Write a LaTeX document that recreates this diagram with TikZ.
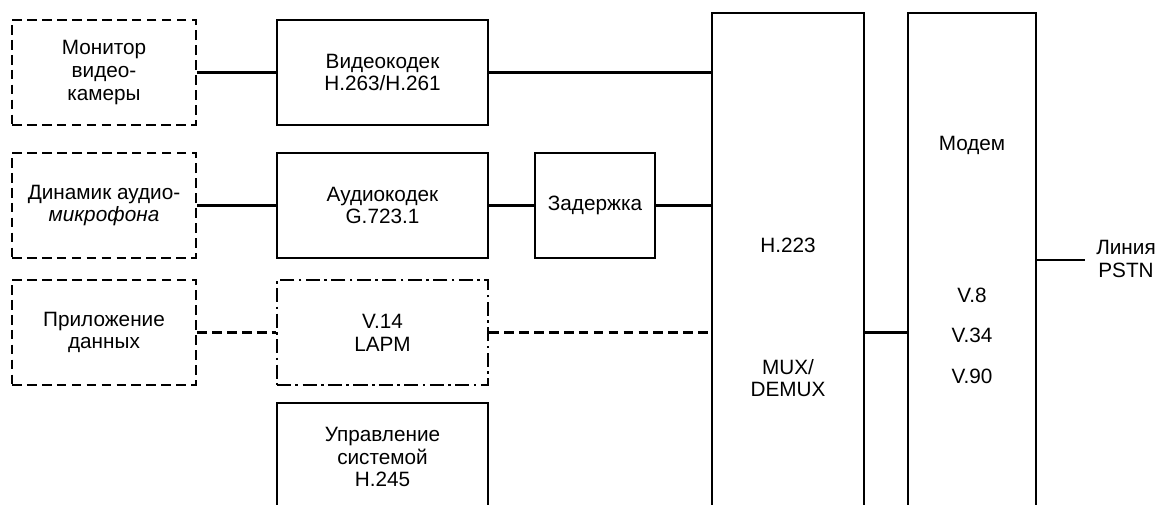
\documentclass[tikz,border=0pt]{standalone}
\usepackage{fontspec}
\setmainfont{Liberation Sans}
\usetikzlibrary{positioning}

\begin{document}
\begin{tikzpicture}[x=0.02cm,y=-0.02cm,font=\fontsize{11.8}{13}\selectfont,
  s/.style={draw,line width=1.6pt,minimum width=4.22cm,minimum height=2.1cm,
            align=center,inner sep=2pt},
  d/.style={s,line width=1.4pt,dash pattern=on 5.5pt off 3pt,minimum width=3.68cm},
  dd/.style={s,line width=1.4pt,dash pattern=on 8pt off 2.5pt on 1.5pt off 2.5pt},
  c/.style={line width=1.3pt}]
\useasboundingbox (0,0) rectangle (1156,504);
\clip (0,0) rectangle (1156,504);
\node[d] (mon) at (104,72.5)  {Монитор\\видео-\\камеры};
\node[d] (dyn) at (104,205.5) {Динамик аудио-\\\textit{микрофона}};
\node[d] (app) at (104,332.5) {Приложение\\данных};
\node[s] (vid) at (382.5,72.5)  {Видеокодек\\H.263/H.261};
\node[s] (aud) at (382.5,205.5) {Аудиокодек\\G.723.1};
\node[dd] (lapm) at (382.5,332.5) {V.14\\LAPM};
\node[s,minimum height=2.16cm] (ctl) at (382.5,457) {Управление\\системой\\H.245};
\node[s,minimum width=2.4cm] (zad) at (595,205.5) {Задержка};
\node[s,minimum width=3.04cm,minimum height=12.18cm] (mux) at (788,317.5)
  {H.223\\[1.98cm]MUX/\\DEMUX};
\node[s,minimum width=2.56cm,minimum height=9.88cm] (mdm) at (972,260)
  {Модем\\[2.58cm]V.8\\[0.36cm]V.34\\[0.36cm]V.90};
\coordinate (le) at (1085,260);
\node[align=center,inner sep=0pt] (pstn) at (1126,259) {Линия\\PSTN};
% connectors
\draw[c] (mon) -- (vid);
\draw[c] (vid.east) -- (vid.east -| mux.west);
\draw[c] (dyn) -- (aud);
\draw[c] (aud) -- (zad);
\draw[c] (zad.east) -- (zad.east -| mux.west);
\draw[c,dash pattern=on 5.5pt off 3pt] (app) -- (lapm);
\draw[c,dash pattern=on 5.5pt off 3pt] (lapm.east) -- (lapm.east -| mux.west);
\draw[c] (lapm.east -| mux.east) -- (lapm.east -| mdm.west);
\draw[c] (mdm.east) -- (le);
\end{tikzpicture}
\end{document}
